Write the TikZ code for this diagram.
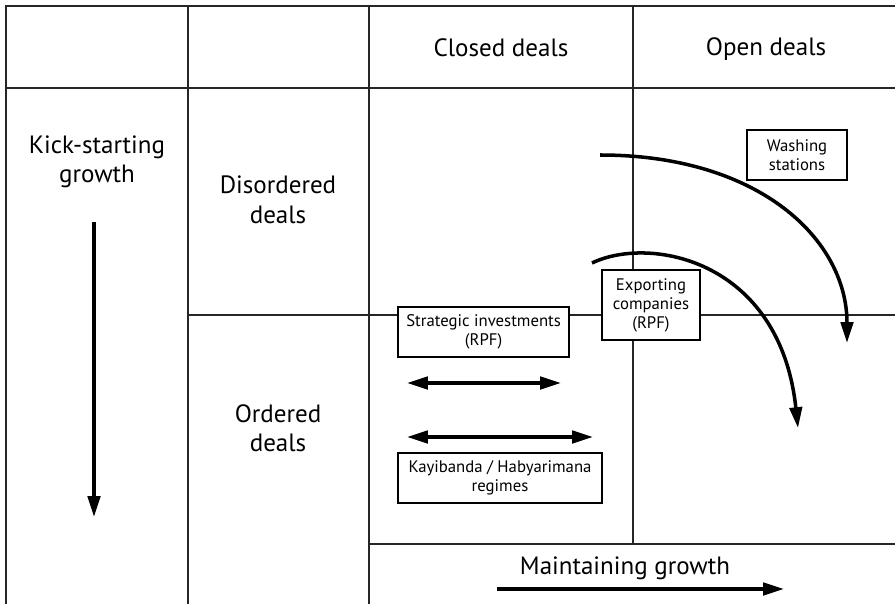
\documentclass[tikz,border=0pt]{standalone}
\usepackage{fontspec}
\setmainfont{PT Sans}
\usetikzlibrary{arrows.meta}
\begin{document}
\begin{tikzpicture}[>={Triangle[length=0.52cm,width=0.31cm]},
  grid/.style={line width=0.8pt, black!85},
  flow/.style={line width=2.5pt, ->},
  big/.style={align=center, font=\fontsize{17.8}{21}\selectfont},
  tag/.style={draw, line width=1pt, fill=white, align=center, inner sep=2pt, font=\fontsize{11.9}{13.5}\selectfont}]
\useasboundingbox (0,0) rectangle (22.375,-15.1);
% table lines
\draw[grid] (0.15,-15.1) -- (0.15,-0.15) -- (22.375,-0.15);
\draw[grid] (0.15,-2.2) -- (22.375,-2.2);
\draw[grid] (4.7,-0.15) -- (4.7,-15.1);
\draw[grid] (9.225,-0.15) -- (9.225,-15.1);
\draw[grid] (15.825,-0.15) -- (15.825,-13.6);
\draw[grid] (4.7,-7.875) -- (22.375,-7.875);
\draw[grid] (9.225,-13.6) -- (22.375,-13.6);
% headings
\node[big] (closed) at (12.525,-1.2) {Closed deals};
\node[big] (open) at (19.15,-1.225) {Open deals};
\node[big] (kick) at (2.425,-4.05) {Kick-starting\\growth};
\node[big] (disordered) at (6.95,-5.0) {Disordered\\deals};
\node[big] (ordered) at (6.95,-10.7) {Ordered\\deals};
\node[big] (maintain) at (15.625,-14.2) {Maintaining growth};
% boxes
\node[tag, minimum width=4.275cm, minimum height=1.25cm] (strategic) at (12.09,-8.3) {Strategic investments\\(RPF)};
\node[tag, minimum width=2.45cm, minimum height=1.75cm] (exporting) at (16.275,-7.625) {Exporting\\companies\\(RPF)};
\node[tag, minimum width=2.5cm, minimum height=1.25cm] (washing) at (19.925,-3.875) {Washing\\stations};
\node[tag, minimum width=5.1cm, minimum height=1.25cm] (regimes) at (12.5,-11.95) {Kayibanda / Habyarimana\\regimes};
% arrow ends
\coordinate (kickA) at (2.35,-5.55);
\coordinate (kickB) at (2.35,-12.925);
\coordinate (stratA) at (10.175,-9.575);
\coordinate (stratB) at (14.025,-9.575);
\coordinate (regA) at (10.175,-10.925);
\coordinate (regB) at (14.825,-10.925);
\coordinate (maintA) at (12.425,-14.725);
\coordinate (maintB) at (19.6,-14.725);
\coordinate (washA) at (15.0,-3.875);
\coordinate (washB) at (21.175,-8.575);
\coordinate (expA) at (14.8,-6.575);
\coordinate (expB) at (19.95,-10.7);
% arrows
\draw[flow] (kickA) -- (kickB);
\draw[flow, <->] (stratA) -- (stratB);
\draw[flow, <->] (regA) -- (regB);
\draw[flow] (maintA) -- (maintB);
\draw[flow] (washA) .. controls (19.0,-3.875) and (21.175,-6.0) .. (washB);
\draw[flow] (expA) .. controls (16.25,-5.875) and (19.5,-6.5) .. (expB);
\end{tikzpicture}
\end{document}
